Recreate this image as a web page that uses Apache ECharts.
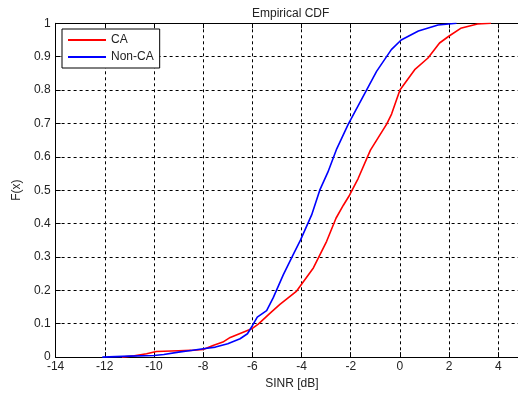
<!DOCTYPE html>
<html>
<head>
  <meta charset="utf-8">
  <script src="https://cdn.jsdelivr.net/npm/echarts@6.0.0/dist/echarts.min.js"></script>
</head>
<body style="margin: 0; background: #fff">
  <div id="container" style="width: 518px; height: 395px"></div>
  <script type="text/javascript">
    // SINR [dB] , F(x) pairs
    var caData = [
      [-11.3, 0], [-10.8, 0.004], [-10.3, 0.01], [-9.9, 0.017], [-9, 0.019], [-8.5, 0.02],
      [-8, 0.023], [-7.6, 0.035], [-7.2, 0.045], [-6.9, 0.059], [-6.4, 0.074], [-6, 0.086],
      [-5.76, 0.099], [-5.3, 0.13], [-4.88, 0.158], [-4.2, 0.198], [-3.52, 0.267],
      [-2.98, 0.347], [-2.6, 0.416], [-2.3, 0.455], [-2.05, 0.485], [-1.7, 0.535],
      [-1.2, 0.62], [-0.54, 0.698], [-0.34, 0.728], [0, 0.8], [0.6, 0.861], [1.14, 0.896],
      [1.61, 0.941], [2.0, 0.962], [2.47, 0.985], [3.15, 0.998], [3.7, 1]
    ];
    var nonCaData = [
      [-12.1, 0], [-11, 0.003], [-10, 0.005], [-9.6, 0.008], [-9, 0.015], [-8.5, 0.02],
      [-8, 0.025], [-7.5, 0.03], [-7, 0.04], [-6.5, 0.055], [-6.2, 0.07], [-6, 0.094],
      [-5.8, 0.12], [-5.42, 0.139], [-5.15, 0.178], [-4.74, 0.247], [-4.34, 0.307],
      [-4.04, 0.351], [-3.59, 0.426], [-3.26, 0.5], [-2.93, 0.554], [-2.57, 0.624],
      [-2.1, 0.698], [-1.56, 0.772], [-0.95, 0.856], [-0.35, 0.921], [0.05, 0.95],
      [0.75, 0.977], [1.55, 0.995], [2.3, 1]
    ];
    var seriesNames = ['CA', 'Non-CA'];
    var seriesColors = ['#ff0000', '#0000ff'];

    var font = 'Liberation Sans, Arial, sans-serif';
    var dom = document.getElementById('container');
    var myChart = echarts.init(dom, null, { renderer: 'canvas' });

    var option = {
      animation: false,
      title: {
        text: 'Empirical CDF',
        left: 247, top: 3,
        textStyle: { fontFamily: font, fontSize: 12, fontWeight: 'normal', color: '#222' }
      },
      legend: {
        data: seriesNames,
        orient: 'vertical',
        left: 62, top: 29,
        padding: [5, 6, 5, 6],
        itemGap: 5,
        itemWidth: 38, itemHeight: 2,
        icon: 'rect',
        backgroundColor: '#fff',
        borderColor: '#000', borderWidth: 1, borderRadius: 0,
        textStyle: { fontFamily: font, fontSize: 12, color: '#222' }
      },
      grid: { left: 55.6, top: 23.3, right: 0, bottom: 35, containLabel: false },
      xAxis: [{
        type: 'value',
        min: -14, max: 4.8, interval: 2,
        name: 'SINR [dB]',
        nameLocation: 'middle', nameGap: 19,
        nameTextStyle: { fontFamily: font, fontSize: 12, color: '#222', padding: [0, 0, 0, 10] },
        axisLine: { show: true, onZero: false, lineStyle: { color: '#000', width: 1 } },
        axisTick: { show: true, inside: true, length: 5, lineStyle: { color: '#000' } },
        axisLabel: { fontFamily: font, fontSize: 12, color: '#222', margin: 4, showMaxLabel: false },
        splitLine: { show: true, lineStyle: { color: '#000', type: [3, 3], width: 1 } }
      }, {
        type: 'value', position: 'top',
        min: -14, max: 4.8, interval: 2,
        axisLine: { show: true, onZero: false, lineStyle: { color: '#000', width: 1 } },
        axisTick: { show: true, inside: true, length: 5, lineStyle: { color: '#000' } },
        axisLabel: { show: false },
        splitLine: { show: false }
      }],
      yAxis: {
        type: 'value',
        min: 0, max: 1, interval: 0.1,
        name: 'F(x)',
        nameLocation: 'middle', nameGap: 33,
        nameTextStyle: { fontFamily: font, fontSize: 12, color: '#222' },
        axisLine: { show: true, onZero: false, lineStyle: { color: '#000', width: 1 } },
        axisTick: { show: true, inside: true, length: 5, lineStyle: { color: '#000' } },
        axisLabel: { fontFamily: font, fontSize: 12, color: '#222', margin: 5 },
        splitLine: { show: true, lineStyle: { color: '#000', type: [3, 3], width: 1 } }
      },
      series: [
        {
          name: seriesNames[0], type: 'line', data: caData,
          symbol: 'none', color: seriesColors[0],
          lineStyle: { width: 1.6, color: seriesColors[0] }
        },
        {
          name: seriesNames[1], type: 'line', data: nonCaData,
          symbol: 'none', color: seriesColors[1],
          lineStyle: { width: 1.6, color: seriesColors[1] }
        }
      ]
    };

    myChart.setOption(option);
    window.addEventListener('resize', myChart.resize);
  </script>
</body>
</html>
